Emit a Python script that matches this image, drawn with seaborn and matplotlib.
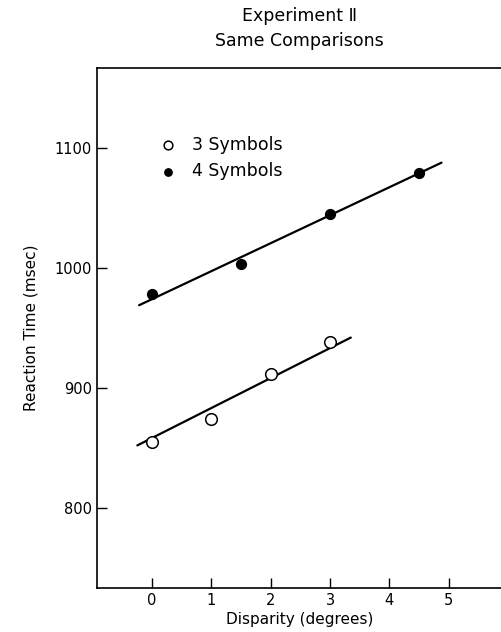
import matplotlib
matplotlib.use("Agg")
import matplotlib.pyplot as plt
import seaborn as sns
import pandas as pd

sns.set_theme(style="ticks")
plt.rcParams["font.family"] = ["DejaVu Sans"]
plt.rcParams["text.color"] = "black"
plt.rcParams["axes.labelcolor"] = "black"

# data
disp_3 = [0, 1, 2, 3]
rt_3 = [855, 874, 912, 938]
disp_4 = [0, 1.5, 3, 4.5]
rt_4 = [978, 1003, 1045, 1079]

# fitted lines (end points as drawn in the original)
fit3_x = [-0.25, 3.35]
fit3_y = [852, 942]
fit4_x = [-0.22, 4.88]
fit4_y = [969, 1088]

x_ticks = [0, 1, 2, 3, 4, 5]
y_ticks = [800, 900, 1000, 1100]

df3 = pd.DataFrame({"disparity": disp_3, "rt": rt_3})
df4 = pd.DataFrame({"disparity": disp_4, "rt": rt_4})
fit3 = pd.DataFrame({"disparity": fit3_x, "rt": fit3_y})
fit4 = pd.DataFrame({"disparity": fit4_x, "rt": fit4_y})

fig = plt.figure(figsize=(5.02, 6.32), dpi=100)
ax = fig.add_axes([97 / 502, 1 - 588 / 632, 1 - 97 / 502, 520 / 632])

sns.lineplot(data=fit3, x="disparity", y="rt", color="black", linewidth=1.6, ax=ax)
sns.lineplot(data=fit4, x="disparity", y="rt", color="black", linewidth=1.6, ax=ax)

ax.scatter(df3["disparity"], df3["rt"], s=70, facecolor="white", edgecolor="black",
           linewidth=1.1, zorder=3, label="3 Symbols")
ax.scatter(df4["disparity"], df4["rt"], s=50, facecolor="black", edgecolor="black",
           zorder=3, label="4 Symbols")

ax.set_xlim(-0.93, 5.9)
ax.set_ylim(733, 1167)
ax.set_xticks(x_ticks)
ax.set_yticks(y_ticks)
ax.tick_params(direction="in", length=7, width=1, labelsize=10.5, colors="black")
for side in ["left", "bottom", "top"]:
    ax.spines[side].set_color("black")
    ax.spines[side].set_linewidth(1.2)
ax.spines["right"].set_visible(False)

ax.set_xlabel("Disparity (degrees)", fontsize=11, labelpad=3)
ax.set_ylabel("Reaction Time (msec)", fontsize=11, labelpad=12)
ax.set_title("Experiment \u2161\nSame Comparisons", fontsize=12.5, pad=16,
             linespacing=1.45, color="black")

ax.legend(loc="upper left", bbox_to_anchor=(0.095, 0.90), frameon=False, fontsize=12.5,
          handletextpad=0.35, labelspacing=0.5, markerscale=0.75)

fig.savefig("out.png", dpi=100)
